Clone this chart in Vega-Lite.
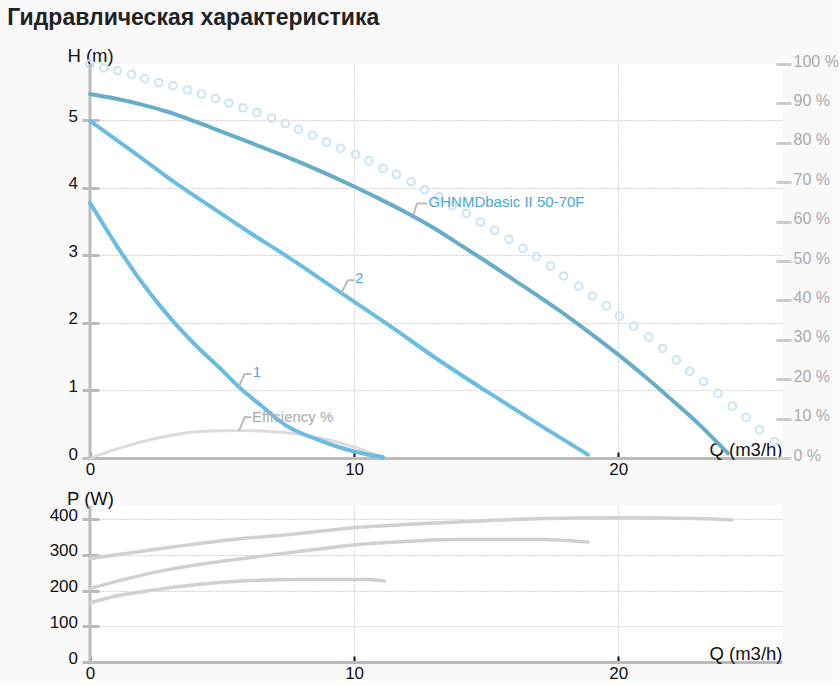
{
  "$schema": "https://vega.github.io/schema/vega-lite/v6.json",
  "background": "#f9f9f9",
  "padding": {"left": 7, "top": 6, "right": 0, "bottom": 0},
  "title": {
    "text": "Гидравлическая характеристика",
    "anchor": "start",
    "font": "Liberation Sans",
    "fontSize": 23,
    "fontWeight": "bold",
    "color": "#222",
    "dx": -42,
    "offset": 17
  },
  "spacing": 48,
  "bounds": "flush",
  "datasets": {
    "head": [
      {"curve": "main", "q": 0, "h": 5.39}, {"curve": "main", "q": 1, "h": 5.32}, {"curve": "main", "q": 2, "h": 5.23},
      {"curve": "main", "q": 3, "h": 5.12}, {"curve": "main", "q": 4, "h": 4.98}, {"curve": "main", "q": 5, "h": 4.83},
      {"curve": "main", "q": 6, "h": 4.68}, {"curve": "main", "q": 7, "h": 4.53}, {"curve": "main", "q": 8, "h": 4.37},
      {"curve": "main", "q": 9, "h": 4.2}, {"curve": "main", "q": 10, "h": 4.02}, {"curve": "main", "q": 11, "h": 3.83},
      {"curve": "main", "q": 12, "h": 3.63}, {"curve": "main", "q": 13, "h": 3.41}, {"curve": "main", "q": 14, "h": 3.16},
      {"curve": "main", "q": 15, "h": 2.91}, {"curve": "main", "q": 16, "h": 2.65}, {"curve": "main", "q": 17, "h": 2.39},
      {"curve": "main", "q": 18, "h": 2.12}, {"curve": "main", "q": 19, "h": 1.83}, {"curve": "main", "q": 20, "h": 1.53},
      {"curve": "main", "q": 21, "h": 1.21}, {"curve": "main", "q": 22, "h": 0.87}, {"curve": "main", "q": 23, "h": 0.52},
      {"curve": "main", "q": 24.15, "h": 0.07},
      {"curve": "2", "q": 0, "h": 4.99}, {"curve": "2", "q": 1.5, "h": 4.57}, {"curve": "2", "q": 3.14, "h": 4.1},
      {"curve": "2", "q": 4.5, "h": 3.74}, {"curve": "2", "q": 6.04, "h": 3.34}, {"curve": "2", "q": 7.56, "h": 2.96},
      {"curve": "2", "q": 9.45, "h": 2.46}, {"curve": "2", "q": 11.34, "h": 1.96}, {"curve": "2", "q": 13.24, "h": 1.44},
      {"curve": "2", "q": 15, "h": 0.99}, {"curve": "2", "q": 17.02, "h": 0.49}, {"curve": "2", "q": 18.85, "h": 0.05},
      {"curve": "1", "q": 0, "h": 3.78}, {"curve": "1", "q": 1, "h": 3.15}, {"curve": "1", "q": 2, "h": 2.58},
      {"curve": "1", "q": 3, "h": 2.09}, {"curve": "1", "q": 4, "h": 1.67}, {"curve": "1", "q": 5, "h": 1.3},
      {"curve": "1", "q": 5.67, "h": 1.04}, {"curve": "1", "q": 6.5, "h": 0.77}, {"curve": "1", "q": 7.43, "h": 0.48},
      {"curve": "1", "q": 8.57, "h": 0.28}, {"curve": "1", "q": 9.96, "h": 0.1}, {"curve": "1", "q": 11.09, "h": 0.01}
    ],
    "eff": [
      {"q": 0, "pct": 0}, {"q": 1.12, "pct": 2.5}, {"q": 2.89, "pct": 5.5}, {"q": 4.15, "pct": 6.7},
      {"q": 5.67, "pct": 7.0}, {"q": 6.68, "pct": 6.8}, {"q": 7.94, "pct": 6.0}, {"q": 9.2, "pct": 4.3},
      {"q": 9.95, "pct": 2.9}, {"q": 11.09, "pct": 0.2}
    ],
    "dots": [
      {"q": 0, "pct": 100}, {"q": 0.52, "pct": 99.0}, {"q": 1.04, "pct": 98.3}, {"q": 1.57, "pct": 97.4},
      {"q": 2.07, "pct": 96.3}, {"q": 2.61, "pct": 95.3}, {"q": 3.14, "pct": 94.5}, {"q": 3.69, "pct": 93.4},
      {"q": 4.22, "pct": 92.4}, {"q": 4.75, "pct": 91.2}, {"q": 5.26, "pct": 90.1}, {"q": 5.79, "pct": 88.9},
      {"q": 6.32, "pct": 87.7}, {"q": 6.87, "pct": 86.3}, {"q": 7.4, "pct": 84.9}, {"q": 7.89, "pct": 83.4},
      {"q": 8.42, "pct": 81.9}, {"q": 8.95, "pct": 80.2}, {"q": 9.49, "pct": 78.6}, {"q": 10.05, "pct": 77.1},
      {"q": 10.56, "pct": 75.4}, {"q": 11.09, "pct": 73.5}, {"q": 11.6, "pct": 72.0}, {"q": 12.16, "pct": 70.1},
      {"q": 12.67, "pct": 68.1}, {"q": 13.21, "pct": 66.3}, {"q": 13.72, "pct": 64.0}, {"q": 14.25, "pct": 62.1},
      {"q": 14.78, "pct": 59.9}, {"q": 15.32, "pct": 57.8}, {"q": 15.86, "pct": 55.5}, {"q": 16.39, "pct": 53.2},
      {"q": 16.9, "pct": 51.1}, {"q": 17.43, "pct": 48.7}, {"q": 17.93, "pct": 46.2}, {"q": 18.5, "pct": 43.6},
      {"q": 19.02, "pct": 41.1}, {"q": 19.55, "pct": 38.6}, {"q": 20.05, "pct": 36.0}, {"q": 20.59, "pct": 33.5},
      {"q": 21.15, "pct": 30.7}, {"q": 21.68, "pct": 27.8}, {"q": 22.2, "pct": 24.9}, {"q": 22.71, "pct": 22.0},
      {"q": 23.23, "pct": 19.4}, {"q": 23.77, "pct": 16.4}, {"q": 24.32, "pct": 13.2}, {"q": 24.84, "pct": 10.3},
      {"q": 25.35, "pct": 7.2}, {"q": 25.92, "pct": 4.1}
    ],
    "connectors": [
      {"id": "main", "q": 12.25, "h": 3.606}, {"id": "main", "q": 12.38, "h": 3.769}, {"id": "main", "q": 12.76, "h": 3.769},
      {"id": "2", "q": 9.515, "h": 2.444}, {"id": "2", "q": 9.765, "h": 2.633}, {"id": "2", "q": 10.02, "h": 2.633},
      {"id": "1", "q": 5.64, "h": 1.062}, {"id": "1", "q": 5.855, "h": 1.244}, {"id": "1", "q": 6.11, "h": 1.244},
      {"id": "eff", "q": 5.64, "h": 0.406}, {"id": "eff", "q": 5.855, "h": 0.603}, {"id": "eff", "q": 6.11, "h": 0.603}
    ],
    "labels": [
      {"kind": "pump", "q": 12.82, "h": 3.785, "label": "GHNMDbasic II 50-70F"},
      {"kind": "pump", "q": 10.03, "h": 2.665, "label": "2"},
      {"kind": "pump", "q": 6.16, "h": 1.273, "label": "1"},
      {"kind": "eff", "q": 6.13, "h": 0.61, "label": "Efficiency %"}
    ],
    "power": [
      {"curve": "main", "q": 0, "p": 290}, {"curve": "main", "q": 2.9, "p": 320}, {"curve": "main", "q": 5.41, "p": 343},
      {"curve": "main", "q": 7.94, "p": 360}, {"curve": "main", "q": 9.96, "p": 376}, {"curve": "main", "q": 12.48, "p": 387},
      {"curve": "main", "q": 15, "p": 396}, {"curve": "main", "q": 17.27, "p": 402}, {"curve": "main", "q": 20, "p": 404},
      {"curve": "main", "q": 23.46, "p": 401}, {"curve": "main", "q": 24.3, "p": 398},
      {"curve": "2", "q": 0, "p": 206}, {"curve": "2", "q": 1.5, "p": 235}, {"curve": "2", "q": 2.9, "p": 258},
      {"curve": "2", "q": 5, "p": 282}, {"curve": "2", "q": 6.68, "p": 298}, {"curve": "2", "q": 8.5, "p": 315},
      {"curve": "2", "q": 9.96, "p": 328}, {"curve": "2", "q": 12.48, "p": 340}, {"curve": "2", "q": 14, "p": 343},
      {"curve": "2", "q": 17.15, "p": 343}, {"curve": "2", "q": 18.85, "p": 336},
      {"curve": "1", "q": 0, "p": 166}, {"curve": "1", "q": 1, "p": 185}, {"curve": "1", "q": 2.26, "p": 200},
      {"curve": "1", "q": 4.15, "p": 218}, {"curve": "1", "q": 6.05, "p": 228}, {"curve": "1", "q": 8, "p": 231},
      {"curve": "1", "q": 10.46, "p": 231}, {"curve": "1", "q": 11.15, "p": 227}
    ]
  },
  "vconcat": [
    {
      "width": 692,
      "height": 394,
      "resolve": {"scale": {"y": "independent"}},
      "layer": [
        {
          "layer": [
            {
              "data": {"name": "eff"},
              "mark": {"type": "line", "color": "#dcdcdc", "strokeWidth": 3, "strokeCap": "round", "interpolate": "monotone"},
              "encoding": {
                "x": {
                  "field": "q", "type": "quantitative",
                  "scale": {"domain": [0, 26.2], "nice": false, "zero": false},
                  "axis": {
                    "values": [0, 10, 20], "title": "Q (m3/h)", "titleX": 692, "titleY": -3,
                    "titleAlign": "right", "titleBaseline": "alphabetic", "titleFontSize": 18.5,
                    "domainColor": "#bbb", "domainWidth": 3, "tickColor": "#111", "tickWidth": 2,
                    "tickSize": -6, "labelFontSize": 17, "labelPadding": 9, "labelFlush": false,
                    "labelOverlap": false, "grid": true
                  }
                },
                "y": {
                  "field": "pct", "type": "quantitative",
                  "scale": {"domain": [0, 100], "nice": false},
                  "axis": {
                    "orient": "right", "values": [0, 10, 20, 30, 40, 50, 60, 70, 80, 90, 100], "tickCount": 11,
                    "labelExpr": "datum.value + ' %'", "title": null, "offset": -6, "domain": false,
                    "tickSize": 15, "tickColor": "#ccc", "tickWidth": 3, "labelFontSize": 16,
                    "labelColor": "#aaa", "labelPadding": 2, "labelBaseline": "alphabetic",
                    "labelOffset": 2, "grid": false, "labelFlush": false, "labelOverlap": false
                  }
                }
              }
            },
            {
              "data": {"name": "dots"},
              "mark": {"type": "point", "filled": false, "size": 58, "strokeWidth": 2, "color": "#c8e5f5", "opacity": 1},
              "encoding": {
                "x": {"field": "q", "type": "quantitative"},
                "y": {
                  "field": "pct", "type": "quantitative",
                  "axis": {
                    "orient": "right", "values": [0, 10, 20, 30, 40, 50, 60, 70, 80, 90, 100], "tickCount": 11,
                    "labelExpr": "datum.value + ' %'", "title": null, "offset": -6, "domain": false,
                    "tickSize": 15, "tickColor": "#ccc", "tickWidth": 3, "labelFontSize": 16,
                    "labelColor": "#aaa", "labelPadding": 2, "labelBaseline": "alphabetic",
                    "labelOffset": 2, "grid": false, "labelFlush": false, "labelOverlap": false
                  }
                }
              }
            }
          ]
        },
        {
          "layer": [
            {
              "data": {"values": [{}]},
              "mark": {"type": "rule", "color": "#bbb", "strokeWidth": 3},
              "encoding": {"x": {"datum": 0, "type": "quantitative"}}
            },
            {
              "data": {"name": "head"},
              "mark": {"type": "line", "strokeWidth": 4, "strokeCap": "round", "interpolate": "monotone"},
              "encoding": {
                "x": {"field": "q", "type": "quantitative"},
                "y": {
                  "field": "h", "type": "quantitative",
                  "scale": {"domain": [0, 5.835], "nice": false},
                  "axis": {
                    "orient": "left", "values": [0, 1, 2, 3, 4, 5], "format": "d", "title": "H (m)",
                    "titleAngle": 0, "titleAlign": "center", "titleBaseline": "alphabetic",
                    "titleX": -9, "titleY": -2.5, "titleFontSize": 18.5, "offset": -9,
                    "domain": false, "tickSize": 17, "tickColor": "#bbb", "tickWidth": 3,
                    "labelFontSize": 17, "labelPadding": 4.5, "labelBaseline": "alphabetic",
                    "labelOffset": 1, "labelFlush": false, "labelOverlap": false, "grid": true
                  }
                },
                "color": {
                  "field": "curve", "type": "nominal", "legend": null,
                  "scale": {"domain": ["main", "2", "1"], "range": ["#67adc9", "#6abde0", "#6abde0"]}
                }
              }
            },
            {
              "data": {"name": "connectors"},
              "mark": {"type": "line", "color": "#bbb", "strokeWidth": 2},
              "encoding": {
                "x": {"field": "q", "type": "quantitative"},
                "y": {"field": "h", "type": "quantitative"},
                "detail": {"field": "id"}
              }
            },
            {
              "data": {"name": "labels"},
              "transform": [{"filter": "datum.kind === 'pump'"}],
              "mark": {"type": "text", "align": "left", "baseline": "middle", "fontSize": 15, "color": "#4aa8dd"},
              "encoding": {
                "x": {"field": "q", "type": "quantitative"},
                "y": {"field": "h", "type": "quantitative"},
                "text": {"field": "label"}
              }
            },
            {
              "data": {"name": "labels"},
              "transform": [{"filter": "datum.kind === 'eff'"}],
              "mark": {"type": "text", "align": "left", "baseline": "middle", "fontSize": 15, "color": "#aaa"},
              "encoding": {
                "x": {"field": "q", "type": "quantitative"},
                "y": {"field": "h", "type": "quantitative"},
                "text": {"field": "label"}
              }
            }
          ]
        }
      ]
    },
    {
      "width": 692,
      "height": 156,
      "layer": [
        {
          "data": {"values": [{}]},
          "mark": {"type": "rule", "color": "#bbb", "strokeWidth": 3},
          "encoding": {"x": {"datum": 0, "type": "quantitative"}}
        },
        {
          "data": {"name": "power"},
          "mark": {"type": "line", "color": "#d0d0d0", "strokeWidth": 3.5, "strokeCap": "round", "interpolate": "monotone"},
          "encoding": {
            "x": {
              "field": "q", "type": "quantitative",
              "scale": {"domain": [0, 26.2], "nice": false, "zero": false},
              "axis": {
                "values": [0, 10, 20], "title": "Q (m3/h)", "titleX": 692, "titleY": -3,
                "titleAlign": "right", "titleBaseline": "alphabetic", "titleFontSize": 18.5,
                "domainColor": "#bbb", "domainWidth": 3, "tickColor": "#111", "tickWidth": 2,
                "tickSize": -6, "labelFontSize": 17, "labelPadding": 9, "labelFlush": false,
                "labelOverlap": false, "grid": true
              }
            },
            "y": {
              "field": "p", "type": "quantitative",
              "scale": {"domain": [0, 437], "nice": false},
              "axis": {
                "orient": "left", "values": [0, 100, 200, 300, 400], "format": "d", "title": "P (W)",
                "titleAngle": 0, "titleAlign": "center", "titleBaseline": "alphabetic",
                "titleX": -9, "titleY": -1.5, "titleFontSize": 18.5, "offset": -9,
                "domain": false, "tickSize": 17, "tickColor": "#bbb", "tickWidth": 3,
                "labelFontSize": 17, "labelPadding": 4.5, "labelBaseline": "alphabetic",
                "labelOffset": 1, "labelFlush": false, "labelOverlap": false, "grid": true
              }
            },
            "detail": {"field": "curve"}
          }
        }
      ]
    }
  ],
  "config": {
    "font": "Liberation Sans",
    "view": {"fill": "white", "stroke": null},
    "axis": {
      "labelFont": "Liberation Sans",
      "titleFont": "Liberation Sans",
      "labelColor": "#111",
      "titleColor": "#111",
      "titleFontWeight": "normal",
      "gridColor": "#aaa",
      "gridDash": [1, 2],
      "gridWidth": 1
    }
  }
}
